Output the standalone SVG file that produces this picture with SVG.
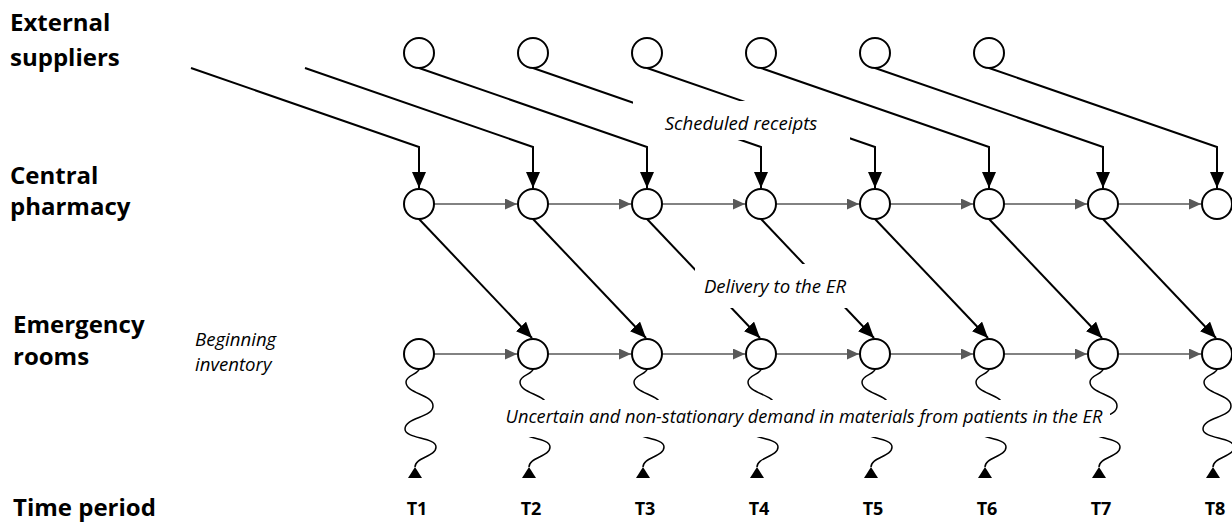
<svg xmlns="http://www.w3.org/2000/svg" width="1232" height="524" viewBox="0 0 1232 524">
<style>
.bold{font-family:"Open Sans","Liberation Sans",sans-serif;font-weight:bold;font-size:24px;fill:#000}
.tl{font-family:"Open Sans","Liberation Sans",sans-serif;font-weight:bold;font-size:18px;fill:#000;text-anchor:middle}
.it{font-family:"Open Sans","Liberation Sans",sans-serif;font-style:italic;font-size:18.6px;fill:#000}
.it2{font-family:"Open Sans","Liberation Sans",sans-serif;font-style:italic;font-size:18.2px;fill:#000}
.node{fill:#fff;stroke:#000;stroke-width:2}
.sl{fill:none;stroke:#000;stroke-width:2;marker-end:url(#ab)}
.dl{fill:none;stroke:#000;stroke-width:2;marker-end:url(#ab)}
.hl{fill:none;stroke:#595959;stroke-width:1.5;marker-end:url(#ag)}
.wv{fill:none;stroke:#000;stroke-width:1.5;marker-end:url(#au)}
.bg{fill:#fff;stroke:none}
</style>
<defs>
<marker id="ab" markerUnits="userSpaceOnUse" viewBox="0 0 16 14" markerWidth="16" markerHeight="14" refX="16" refY="7" orient="auto"><path d="M0,0 L16,7 L0,14 z" fill="#000"/></marker>
<marker id="ag" markerUnits="userSpaceOnUse" viewBox="0 0 12 11" markerWidth="12" markerHeight="11" refX="12" refY="5.5" orient="auto"><path d="M0,0 L12,5.5 L0,11 z" fill="#595959"/></marker>
<marker id="au" markerUnits="userSpaceOnUse" viewBox="0 0 11 14" markerWidth="11" markerHeight="14" refX="11" refY="7" orient="270"><path d="M0,0 L11,7 L0,14 z" fill="#000"/></marker>
<path id="wave" d="M0 369 C0 374 -13 375 -13 382 C-13 394 14 394 14 406 C14 418 -14 417 -14 429 C-14 439 17 437 17 447 C17 457 -4 457 -4 467"/>
</defs>

<g id="row-labels">
<text class="bold" x="10" y="31">External</text>
<text class="bold" x="10" y="66">suppliers</text>
<text class="bold" x="10" y="184">Central</text>
<text class="bold" x="10" y="215">pharmacy</text>
<text class="bold" x="13" y="333">Emergency</text>
<text class="bold" x="13" y="365">rooms</text>
<text class="bold" x="13" y="516">Time period</text>
</g>

<g id="connectors">
<path class="sl" d="M191 68 L419 147 L419 188"/>
<path class="sl" d="M305 68 L533 147 L533 188"/>
<path class="sl" d="M419 68 L647 147 L647 188"/>
<path class="sl" d="M533 68 L761 147 L761 188"/>
<path class="sl" d="M647 68 L875 147 L875 188"/>
<path class="sl" d="M761 68 L989 147 L989 188"/>
<path class="sl" d="M875 68 L1103 147 L1103 188"/>
<path class="sl" d="M989 68 L1217 147 L1217 188"/>

<path class="hl" d="M434 204 L517 204"/>
<path class="hl" d="M548 204 L631 204"/>
<path class="hl" d="M662 204 L745 204"/>
<path class="hl" d="M776 204 L859 204"/>
<path class="hl" d="M890 204 L973 204"/>
<path class="hl" d="M1004 204 L1087 204"/>
<path class="hl" d="M1118 204 L1201 204"/>

<path class="hl" d="M434 354 L517 354"/>
<path class="hl" d="M548 354 L631 354"/>
<path class="hl" d="M662 354 L745 354"/>
<path class="hl" d="M776 354 L859 354"/>
<path class="hl" d="M890 354 L973 354"/>
<path class="hl" d="M1004 354 L1087 354"/>
<path class="hl" d="M1118 354 L1201 354"/>

<path class="dl" d="M419 219 L532 338"/>
<path class="dl" d="M533 219 L646 338"/>
<path class="dl" d="M647 219 L760 338"/>
<path class="dl" d="M761 219 L874 338"/>
<path class="dl" d="M875 219 L988 338"/>
<path class="dl" d="M989 219 L1102 338"/>
<path class="dl" d="M1103 219 L1216 338"/>

<use href="#wave" class="wv" transform="translate(419,0)"/>
<use href="#wave" class="wv" transform="translate(533,0)"/>
<use href="#wave" class="wv" transform="translate(647,0)"/>
<use href="#wave" class="wv" transform="translate(761,0)"/>
<use href="#wave" class="wv" transform="translate(875,0)"/>
<use href="#wave" class="wv" transform="translate(989,0)"/>
<use href="#wave" class="wv" transform="translate(1103,0)"/>
<use href="#wave" class="wv" transform="translate(1217,0)"/>
</g>

<g id="labels">
<rect class="bg" x="633" y="101" width="217" height="39"/>
<text class="it" x="741" y="130" text-anchor="middle">Scheduled receipts</text>
<rect class="bg" x="695" y="264" width="160" height="44"/>
<text class="it" x="775" y="293" text-anchor="middle">Delivery to the ER</text>
<rect class="bg" x="498" y="400" width="612" height="37"/>
<text class="it2" x="804" y="423" text-anchor="middle">Uncertain and non-stationary demand in materials from patients in the ER</text>
<text class="it" x="195" y="346">Beginning</text>
<text class="it" x="195" y="371">inventory</text>
</g>

<g id="suppliers">
<circle id="s1" class="node" cx="419" cy="53" r="15"/>
<circle id="s2" class="node" cx="533" cy="53" r="15"/>
<circle id="s3" class="node" cx="647" cy="53" r="15"/>
<circle id="s4" class="node" cx="761" cy="53" r="15"/>
<circle id="s5" class="node" cx="875" cy="53" r="15"/>
<circle id="s6" class="node" cx="989" cy="53" r="15"/>
</g>
<g id="pharmacy">
<circle id="p1" class="node" cx="419" cy="204" r="15"/>
<circle id="p2" class="node" cx="533" cy="204" r="15"/>
<circle id="p3" class="node" cx="647" cy="204" r="15"/>
<circle id="p4" class="node" cx="761" cy="204" r="15"/>
<circle id="p5" class="node" cx="875" cy="204" r="15"/>
<circle id="p6" class="node" cx="989" cy="204" r="15"/>
<circle id="p7" class="node" cx="1103" cy="204" r="15"/>
<circle id="p8" class="node" cx="1217" cy="204" r="15"/>
</g>
<g id="er">
<circle id="e1" class="node" cx="419" cy="354" r="15"/>
<circle id="e2" class="node" cx="533" cy="354" r="15"/>
<circle id="e3" class="node" cx="647" cy="354" r="15"/>
<circle id="e4" class="node" cx="761" cy="354" r="15"/>
<circle id="e5" class="node" cx="875" cy="354" r="15"/>
<circle id="e6" class="node" cx="989" cy="354" r="15"/>
<circle id="e7" class="node" cx="1103" cy="354" r="15"/>
<circle id="e8" class="node" cx="1217" cy="354" r="15"/>
</g>
<g id="periods">
<text class="tl" x="417" y="515">T1</text>
<text class="tl" x="531" y="515">T2</text>
<text class="tl" x="645" y="515">T3</text>
<text class="tl" x="759" y="515">T4</text>
<text class="tl" x="873" y="515">T5</text>
<text class="tl" x="987" y="515">T6</text>
<text class="tl" x="1101" y="515">T7</text>
<text class="tl" x="1215" y="515">T8</text>
</g>
</svg>
